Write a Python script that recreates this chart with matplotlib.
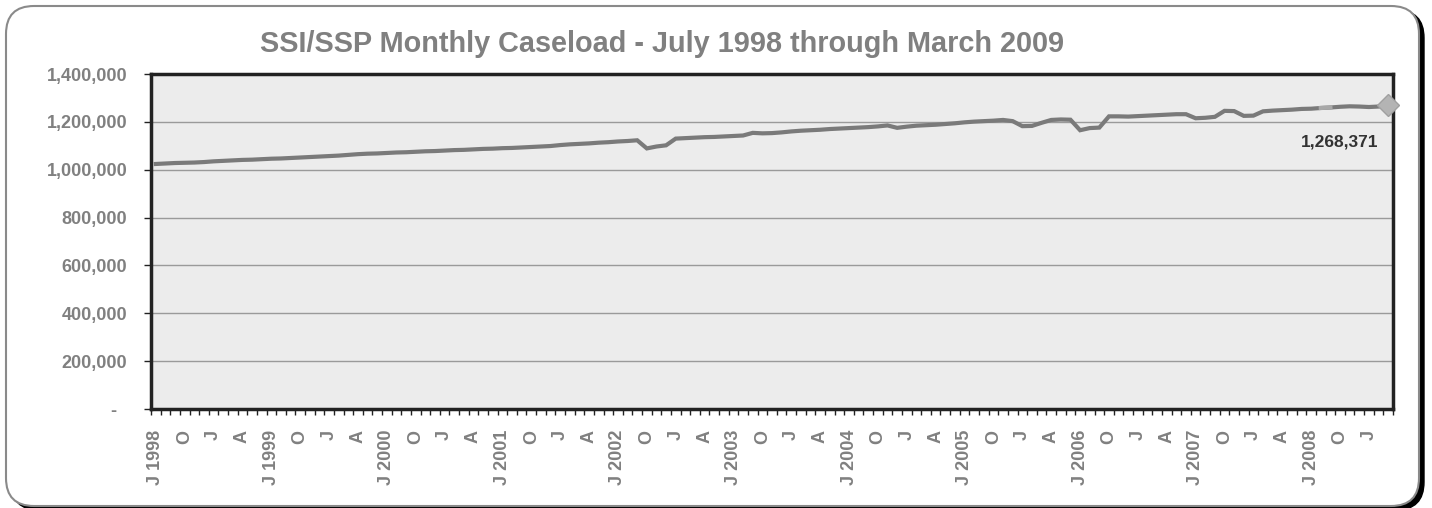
import matplotlib
matplotlib.use("Agg")
import matplotlib.pyplot as plt
from matplotlib.patches import FancyBboxPatch
from matplotlib.ticker import FuncFormatter, FixedLocator

plt.rcParams['font.family'] = ['Liberation Sans', 'DejaVu Sans']

# Monthly caseload, July 1998 .. March 2009 (129 months), values in persons
caseload_k = [
    1024, 1026, 1028, 1029, 1030, 1032, 1035, 1037, 1039, 1041, 1042, 1044,   # Jul98-Jun99
    1046, 1047, 1049, 1051, 1053, 1055, 1057, 1059, 1062, 1065, 1067, 1068,   # Jul99-Jun00
    1070, 1072, 1073, 1075, 1077, 1078, 1080, 1082, 1083, 1085, 1087, 1088,   # Jul00-Jun01
    1090, 1091, 1093, 1095, 1097, 1099, 1103, 1106, 1108, 1110, 1113, 1115,   # Jul01-Jun02
    1118, 1120, 1123, 1089, 1097, 1102, 1130, 1132, 1134, 1136, 1137, 1139,   # Jul02-Jun03
    1141, 1143, 1154, 1152, 1153, 1156, 1160, 1163, 1165, 1167, 1170, 1172,   # Jul03-Jun04
    1174, 1176, 1178, 1181, 1185, 1175, 1180, 1184, 1186, 1188, 1191, 1194,   # Jul04-Jun05
    1198, 1201, 1203, 1205, 1208, 1203, 1182, 1183, 1196, 1208, 1210, 1209,   # Jul05-Jun06
    1165, 1174, 1176, 1223, 1223, 1222, 1224, 1226, 1228, 1230, 1232, 1232,   # Jul06-Jun07
    1215, 1217, 1221, 1246, 1245, 1225, 1226, 1244, 1247, 1249, 1251, 1254,   # Jul07-Jun08
    1255, 1258, 1260, 1263, 1265, 1264, 1262, 1264, 1268.371,                 # Jul08-Mar09
]
caseload = [v * 1000 for v in caseload_k]

month_letters = ["J", "A", "S", "O", "N", "D", "J", "F", "M", "A", "M", "J"]  # starting July
start_year = 1998
labels_every = 3
title = "SSI/SSP Monthly Caseload - July 1998 through March 2009"
y_ticks = [0, 200000, 400000, 600000, 800000, 1000000, 1200000, 1400000]

n = len(caseload)
xs = [i + 0.5 for i in range(n)]

W, H, DPI = 1432, 508, 100
fig = plt.figure(figsize=(W / DPI, H / DPI), dpi=DPI, facecolor="white")

# background frame (pixel coordinates)
bg = fig.add_axes([0, 0, 1, 1], zorder=0)
bg.set_xlim(0, W)
bg.set_ylim(0, H)
bg.axis("off")
shadow = FancyBboxPatch((11, -2), 1413, 500, boxstyle="round,pad=0,rounding_size=28",
                        facecolor="black", edgecolor="black", lw=1)
bg.add_patch(shadow)
frame = FancyBboxPatch((6, 2), 1413, 500, boxstyle="round,pad=0,rounding_size=28",
                       facecolor="white", edgecolor="#8a8a8a", lw=1.5)
bg.add_patch(frame)

ax = fig.add_axes([151 / W, 1 - 409 / H, (1393 - 151) / W, (409 - 74) / H], zorder=1)
ax.set_facecolor("#ececec")

ax.plot(xs, caseload, color="#7a7a7a", lw=3.0, solid_joinstyle="miter", zorder=3)
ax.plot(xs[121:123], caseload[121:123], color="#a8a8a8", lw=3.0, zorder=4)
ax.plot(xs[-1], caseload[-1], marker="D", markersize=11, color="#b4b4b4",
        markeredgecolor="#a0a0a0", zorder=5, clip_on=False)
ax.annotate(f"{int(round(caseload[-1])):,}", xy=(xs[-1], caseload[-1]),
            xytext=(-7, -26), textcoords="offset points", ha="right", va="center",
            fontsize=12.5, fontweight="bold", color="#333333")

ax.set_xlim(0, n)
ax.set_ylim(0, 1400000)

ax.set_yticks(y_ticks)
ax.yaxis.set_major_formatter(FuncFormatter(lambda v, p: "-  " if v == 0 else f"{int(v):,}"))
ax.grid(axis="y", color="#9a9a9a", lw=1.0)
ax.set_axisbelow(True)

# x labels at category centers every 3 months
lab_pos, lab_txt = [], []
for i in range(0, n, labels_every):
    m = i % 12
    if m == 0:
        lab_txt.append(f"J {start_year + i // 12}")
    else:
        lab_txt.append(month_letters[m])
    lab_pos.append(i + 0.5)
ax.set_xticks(lab_pos)
ax.set_xticklabels(lab_txt, rotation=90)
ax.xaxis.set_minor_locator(FixedLocator(list(range(0, n + 1))))
ax.tick_params(axis="x", which="major", length=0, pad=15)
ax.tick_params(axis="x", which="minor", length=4, width=1, color="#222222", direction="out")
ax.tick_params(axis="y", which="major", length=5, width=1, color="#222222", pad=12)
for lab in ax.get_xticklabels() + ax.get_yticklabels():
    lab.set_fontweight("bold")
    lab.set_color("#808080")
    lab.set_fontsize(13)

for s in ax.spines.values():
    s.set_color("#222222")
    s.set_linewidth(2.5)

fig.text(662 / W, 1 - 44 / H, title, ha="center", va="center", fontsize=20.8,
         fontweight="bold", color="#808080")

fig.savefig("out.png", dpi=DPI, facecolor="white")
